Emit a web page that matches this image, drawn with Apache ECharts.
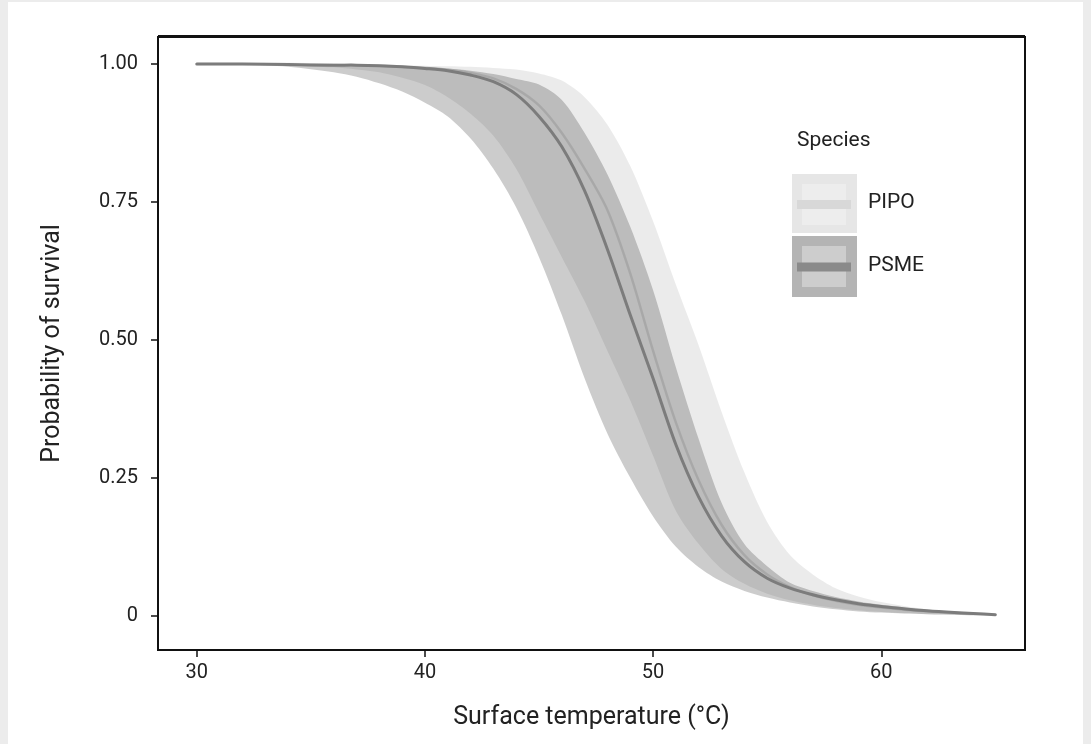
<!DOCTYPE html>
<html><head><meta charset="utf-8">
<script src="https://cdn.jsdelivr.net/npm/echarts@6/dist/echarts.min.js"></script>
<style>
html,body{margin:0;padding:0;background:#ececec;width:1091px;height:744px;overflow:hidden;}
#c{position:absolute;left:8px;top:2px;width:1075px;height:742px;background:#fff;}
</style></head><body><div id="c"></div>
<script>
const temps    = [30,32,34,36,37,38,39,40,41,42,43,44,45,46,47,48,49,50,51,52,53,54,55,56,57,58,59,60,62,65];
const psmeMean = [1,1,0.999,0.998,0.998,0.997,0.995,0.992,0.988,0.98,0.968,0.945,0.905,0.85,0.77,0.664,0.545,0.43,0.31,0.215,0.145,0.098,0.068,0.05,0.038,0.029,0.022,0.017,0.009,0.002];
const psmeLow  = [1,0.999,0.995,0.985,0.977,0.965,0.95,0.93,0.905,0.865,0.81,0.74,0.65,0.545,0.43,0.33,0.25,0.18,0.125,0.088,0.062,0.045,0.033,0.024,0.017,0.012,0.008,0.006,0.003,0.001];
const psmeHigh = [1,1,1,0.999,0.999,0.998,0.997,0.995,0.992,0.988,0.982,0.973,0.963,0.935,0.875,0.8,0.705,0.59,0.45,0.32,0.205,0.13,0.09,0.06,0.045,0.034,0.026,0.02,0.011,0.003];
const pipoMean = [1,1,1,0.999,0.998,0.997,0.995,0.993,0.99,0.984,0.974,0.955,0.925,0.875,0.81,0.735,0.62,0.48,0.35,0.245,0.165,0.11,0.075,0.052,0.037,0.027,0.02,0.015,0.008,0.002];
const pipoLow  = [1,0.999,0.997,0.994,0.99,0.985,0.975,0.962,0.94,0.91,0.87,0.81,0.73,0.65,0.57,0.48,0.39,0.29,0.19,0.13,0.085,0.058,0.04,0.028,0.02,0.014,0.01,0.007,0.003,0.001];
const pipoHigh = [1,1,1,1,0.999,0.999,0.998,0.997,0.996,0.995,0.993,0.99,0.983,0.97,0.94,0.89,0.815,0.715,0.6,0.49,0.37,0.26,0.17,0.11,0.075,0.05,0.035,0.025,0.012,0.003];
const xTicks = [30,40,50,60];
const yTicks = [0,0.25,0.5,0.75,1];
const species = ['PIPO','PSME'];
const legendTitle = 'Species';
const xName = 'Surface temperature (°C)';
const yName = 'Probability of survival';

const FONT = 'Roboto';
const TXT = '#222';
const SM = 0.3;

function bbox(pts){
  let x0=Infinity,y0=Infinity,x1=-Infinity,y1=-Infinity;
  pts.forEach(p=>{x0=Math.min(x0,p[0]);y0=Math.min(y0,p[1]);x1=Math.max(x1,p[0]);y1=Math.max(y1,p[1]);});
  return [[x0,y0],[x1,y1]];
}
function ribbon(key, lo, hi, color){
  return {type:'custom', name:key+'_band', coordinateSystem:'cartesian2d', silent:true, z:1,
    data:[[temps[0], hi[0]]],
    renderItem:(params, api)=>{
      const up = temps.map((t,i)=>api.coord([t, hi[i]]));
      const dn = temps.map((t,i)=>api.coord([t, lo[i]])).reverse();
      const pts = up.concat(dn);
      return {type:'polygon', shape:{points:pts, smooth:SM, smoothConstraint:bbox(pts)}, style:{fill:color}};
    }};
}
function meanLine(key, arr, color, w, z){
  return {type:'custom', name:key, coordinateSystem:'cartesian2d', silent:true, z:z,
    data:[[temps[0], arr[0]]],
    renderItem:(params, api)=>{
      const pts = temps.map((t,i)=>api.coord([t, arr[i]]));
      return {type:'polyline', shape:{points:pts, smooth:SM, smoothConstraint:bbox(pts)},
        style:{stroke:color, lineWidth:w, fill:null, lineCap:'round', lineJoin:'round'}};
    }};
}

const chart = echarts.init(document.getElementById('c'), null, {renderer:'canvas'});
chart.setOption({
  animation:false,
  backgroundColor:'#fff',
  grid:{left:150, right:58, top:35, bottom:94, show:true, borderColor:'#111', borderWidth:2, backgroundColor:'transparent'},
  xAxis:{type:'value', min:28.3, max:66.3,
    name:xName, nameLocation:'middle', nameGap:55,
    nameTextStyle:{fontFamily:FONT, fontSize:25, color:TXT},
    axisLine:{show:false, onZero:false},
    axisTick:{show:true, customValues:xTicks, length:7, lineStyle:{color:'#111', width:1.5}},
    axisLabel:{customValues:xTicks, margin:13, fontFamily:FONT, fontSize:20, color:TXT},
    splitLine:{show:false}},
  yAxis:{type:'value', min:-0.062, max:1.049,
    name:yName, nameLocation:'middle', nameGap:93,
    nameTextStyle:{fontFamily:FONT, fontSize:25, color:TXT},
    axisLine:{show:false, onZero:false},
    axisTick:{show:true, customValues:yTicks, length:7, lineStyle:{color:'#111', width:1.5}},
    axisLabel:{customValues:yTicks, margin:20, fontFamily:FONT, fontSize:20, color:TXT,
      formatter:v=> v===0 ? '0' : v.toFixed(2)},
    splitLine:{show:false}},
  series:[
    ribbon('PSME', psmeLow, psmeHigh, 'rgba(0,0,0,0.2)'),
    ribbon('PIPO', pipoLow, pipoHigh, 'rgba(0,0,0,0.08)'),
    meanLine('PIPO', pipoMean, 'rgba(0,0,0,0.1)', 2.5, 3),
    meanLine('PSME', psmeMean, '#7c7c7c', 3, 4)
  ],
  graphic:[
    {type:'line', shape:{x1:150, y1:34, x2:1017, y2:34}, style:{stroke:'#111', lineWidth:2}},
    {type:'text', left:789, top:128, style:{text:legendTitle, fontFamily:FONT, fontSize:21, fill:TXT}},
    {type:'rect', shape:{x:784, y:172, width:65, height:59}, style:{fill:'#e6e6e6'}},
    {type:'rect', shape:{x:794, y:182, width:44, height:41}, style:{fill:'#ededed'}},
    {type:'line', shape:{x1:789, y1:202.5, x2:843, y2:202.5}, style:{stroke:'#d8d8d8', lineWidth:9}},
    {type:'rect', shape:{x:784, y:234, width:65, height:61}, style:{fill:'#b4b4b4'}},
    {type:'rect', shape:{x:794, y:244, width:44, height:41}, style:{fill:'#cdcdcd'}},
    {type:'line', shape:{x1:789, y1:265, x2:843, y2:265}, style:{stroke:'#8a8a8a', lineWidth:9}},
    {type:'text', left:860, top:190, style:{text:species[0], fontFamily:FONT, fontSize:21, fill:TXT}},
    {type:'text', left:860, top:253, style:{text:species[1], fontFamily:FONT, fontSize:21, fill:TXT}}
  ]
});
</script></body></html>
